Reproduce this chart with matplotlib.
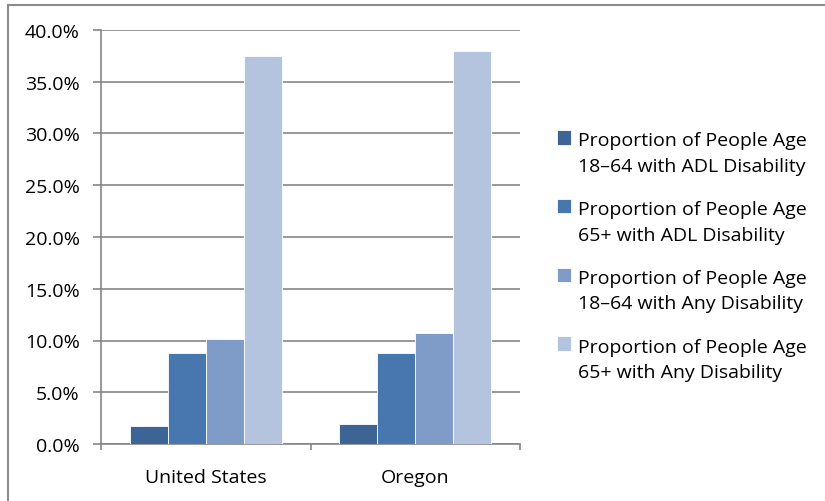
import numpy as np
import matplotlib.pyplot as plt
from matplotlib.lines import Line2D
from matplotlib.patches import Rectangle
from matplotlib.legend_handler import HandlerPatch
from matplotlib.ticker import PercentFormatter

places = ["United States", "Oregon"]
series_names = [
    "Proportion of People Age\n18\u201364 with ADL Disability",
    "Proportion of People Age\n65+ with ADL Disability",
    "Proportion of People Age\n18\u201364 with Any Disability",
    "Proportion of People Age\n65+ with Any Disability",
]
# percent values, one list per series (US, Oregon)
adl_18_64 = [1.75, 1.9]
adl_65 = [8.8, 8.8]
any_18_64 = [10.1, 10.75]
any_65 = [37.45, 37.95]
colors = ["#3C6495", "#4877B0", "#7F9CC8", "#B4C4DF"]

plt.rcParams['font.family'] = ['Open Sans', 'DejaVu Sans']


class FirstLineHandler(HandlerPatch):
    # put the colour box next to the first line of a two-line label
    def create_artists(self, legend, orig_handle, xdescent, ydescent,
                       width, height, fontsize, trans):
        return super().create_artists(legend, orig_handle, xdescent, ydescent - 11.5,
                                      width, height, fontsize, trans)


fig = plt.figure(figsize=(8.25, 5.02), dpi=100)
ax = fig.add_axes([101 / 825, 1 - 445 / 502, 419 / 825, 414 / 502])

x = np.arange(len(places))
w = 0.181
bars = []
for k, vals in enumerate([adl_18_64, adl_65, any_18_64, any_65]):
    b = ax.bar(x + (k - 1.5) * w, vals, w, color=colors[k],
               edgecolor="white", linewidth=0.6, zorder=3)
    bars.append(b)

ax.set_xlim(-0.5, 1.5)
ax.set_ylim(0, 40)
ax.set_yticks(np.arange(0, 41, 5))
ax.yaxis.set_major_formatter(PercentFormatter(decimals=1))
ax.set_xticks(x)
ax.set_xticklabels(places)
ax.set_xticks([-0.5, 0.5, 1.5], minor=True)
ax.tick_params(axis='x', which='major', length=0, pad=17.5, labelsize=14)
ax.tick_params(axis='x', which='minor', length=4.3, color="#868686", width=1.2)
ax.tick_params(axis='y', length=5.8, color="#868686", width=1.2, labelsize=14, pad=9.5)
ax.grid(axis='y', color="#868686", linewidth=1.2, zorder=0)
for s in ["top", "right"]:
    ax.spines[s].set_visible(False)
for s in ["left", "bottom"]:
    ax.spines[s].set_color("#868686")
    ax.spines[s].set_linewidth(1.2)

leg = fig.legend([b[0] for b in bars], series_names,
                 loc="upper left", bbox_to_anchor=(539 / 825, 1 - 115 / 502),
                 frameon=False, fontsize=14, handlelength=0.75, handleheight=0.75,
                 handletextpad=0.35, labelspacing=1.3,
                 handler_map={Rectangle: FirstLineHandler()})
for t in leg.get_texts():
    t.set_linespacing(1.53)

# outer chart frame
fig.add_artist(Line2D([8 / 825, 8 / 825], [0, 1 - 6 / 502], color="#8c8c8c", linewidth=1.5))
fig.add_artist(Line2D([8 / 825, 1], [1 - 6 / 502, 1 - 6 / 502], color="#8c8c8c", linewidth=1.5))

fig.savefig("out.png", dpi=100)
